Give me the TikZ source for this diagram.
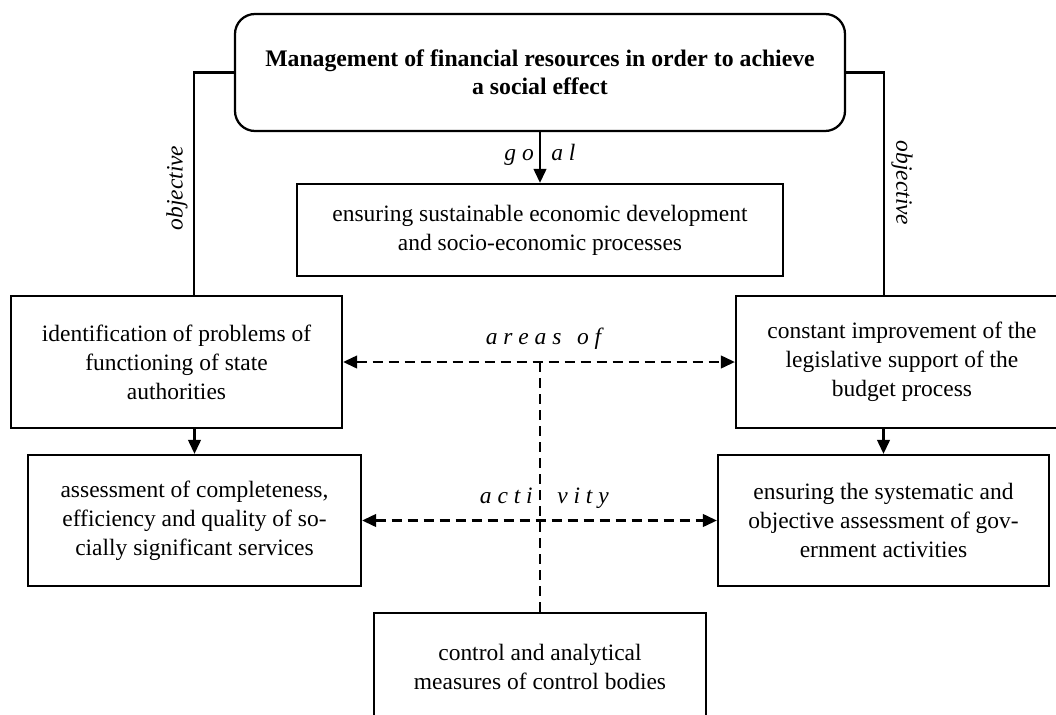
\documentclass[tikz,border=0pt]{standalone}
\usepackage{fontspec}
\setmainfont{Liberation Serif}
\usetikzlibrary{arrows.meta}
\begin{document}
\begin{tikzpicture}[x=0.75pt,y=-0.75pt,
  every node/.style={font=\fontsize{17.6}{21.75}\selectfont},
  box/.style={draw,line width=1.7pt,align=center,inner sep=0pt},
  conn/.style={line width=1.6pt},
  tip/.style={-{Triangle[length=10.5pt,width=9.5pt]}},
  dtip/.style={{Triangle[length=10.5pt,width=9.5pt]}-{Triangle[length=10.5pt,width=9.5pt]}},
  dsh/.style={line width=1.6pt,dash pattern=on 7.5pt off 4.5pt},
  lbl/.style={font=\fontsize{17.6}{21}\selectfont\itshape,inner sep=0pt}]
\clip (0,0) rectangle (1056,714);
% boxes
\node[box,rounded corners=15pt,minimum width=457.5pt,minimum height=87.75pt,
  font=\fontsize{17.8}{20.8}\selectfont\bfseries] (top) at (540,72.5)
  {Management of financial resources in order to achieve\\a social effect};
\node[box,minimum width=364.5pt,minimum height=69pt] (mid) at (540,230)
  {ensuring sustainable economic development\\and socio-economic processes};
\node[box,minimum width=248.25pt,minimum height=99pt] (lb1) at (176.5,362)
  {identification of problems of\\functioning of state\\authorities};
\node[box,minimum width=249pt,minimum height=99pt] (rb1) at (902,362)
  {constant improvement of the\\legislative support of the\\budget process};
\node[box,minimum width=249.75pt,minimum height=98.25pt] (lb2) at (194.5,520.5)
  {assessment of completeness,\\efficiency and quality of so-\\cially significant services};
\node[box,minimum width=248.25pt,minimum height=98.25pt] (rb2) at (883.5,520.5)
  {ensuring the systematic and\\objective assessment of gov-\\ernment activities};
\node[box,minimum width=249pt,minimum height=81pt] (bot) at (540,667)
  {control and analytical\\measures of control bodies};
% connectors
\coordinate (lx) at (194,0);
\coordinate (rx) at (884,0);
\draw[conn] (top.west) -| (lx |- lb1.north);
\draw[conn] (top.east) -| (rx |- rb1.north);
\draw[conn,tip] (top.south) -- (mid.north);
\draw[conn,tip] (lb1.south -| lb2.north) -- (lb2.north);
\draw[conn,tip] (rb1.south -| rb2.north) -- (rb2.north);
\draw[dsh,dtip] (lb1.east) -- (rb1.west);
\draw[dsh,dtip] (lb2.east) -- (rb2.west);
\draw[dsh] (bot.north |- lb1.east) -- (bot.north);
% labels
\node[lbl,rotate=90] (objl) at (177,188) {objective};
\node[lbl,rotate=-90] (objr) at (902,183) {objective};
\node[lbl,anchor=base east] (g1) at (534,160) {g o};
\node[lbl,anchor=base west] (g2) at (551,160) {a l};
\node[lbl,anchor=base] (ar) at (543.5,344) {a r e a s\ \ \,o f};
\node[lbl,anchor=base east] (ac1) at (533,503) {a c t i};
\node[lbl,anchor=base west] (ac2) at (557,503) {v i t y};
\end{tikzpicture}
\end{document}
